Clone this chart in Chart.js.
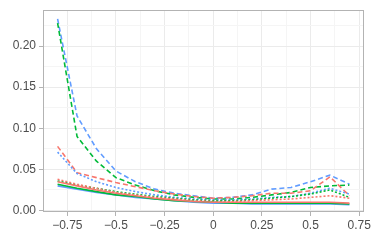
<!DOCTYPE html>
<html>
<head>
<meta charset="utf-8">
<script src="https://cdn.jsdelivr.net/npm/chart.js@4/dist/chart.umd.min.js"></script>
<style>
html,body{margin:0;padding:0;background:#fff;}
#wrap{width:374px;height:240px;}
</style>
</head>
<body>
<div id="wrap"><canvas id="c" width="374" height="240"></canvas></div>
<script>
const xValues = [-0.8,-0.7,-0.6,-0.5,-0.4,-0.3,-0.2,-0.1,0,0.1,0.2,0.3,0.4,0.5,0.6,0.7];

const blueDashed  = [0.233,0.115,0.075,0.048,0.035,0.026,0.021,0.018,0.015,0.016,0.019,0.026,0.028,0.035,0.043,0.032];
const greenDashed = [0.228,0.090,0.060,0.040,0.031,0.024,0.019,0.016,0.014,0.014,0.016,0.019,0.022,0.028,0.030,0.031];
const redDashed   = [0.078,0.046,0.040,0.034,0.029,0.024,0.020,0.017,0.015,0.016,0.018,0.021,0.021,0.024,0.041,0.018];
const blueDotted  = [0.071,0.045,0.035,0.028,0.023,0.019,0.016,0.014,0.013,0.013,0.014,0.016,0.017,0.021,0.027,0.020];
const greenDotted = [0.036,0.031,0.027,0.023,0.020,0.017,0.015,0.013,0.012,0.012,0.013,0.015,0.017,0.020,0.025,0.016];
const redDotted   = [0.038,0.032,0.027,0.022,0.019,0.016,0.014,0.012,0.011,0.011,0.012,0.013,0.014,0.016,0.018,0.015];
const redSolid    = [0.035,0.030,0.025,0.021,0.018,0.015,0.013,0.011,0.010,0.010,0.010,0.010,0.010,0.010,0.010,0.009];
const greenSolid  = [0.032,0.027,0.023,0.019,0.017,0.014,0.012,0.011,0.010,0.009,0.009,0.009,0.009,0.009,0.009,0.008];
const blueSolid   = [0.030,0.026,0.022,0.019,0.016,0.014,0.012,0.010,0.009,0.009,0.008,0.008,0.008,0.008,0.008,0.007];

const xTicks = [-0.75,-0.5,-0.25,0,0.25,0.5,0.75];
const xTickLabels = ['\u22120.75','\u22120.5','\u22120.25','0','0.25','0.5','0.75'];
const yTicks = [0,0.05,0.10,0.15,0.20];
const yTickLabels = ['0.00','0.05','0.10','0.15','0.20'];

const RED = '#F8766D', GREEN = '#00BA38', BLUE = '#619CFF';
const DASH = [5,3], DOT = [2,2];

function mk(vals, color, dash, w){
  return {
    data: xValues.map((x,i)=>({x:x,y:vals[i]})),
    borderColor: color, borderWidth: w || 1.6, borderDash: dash || [],
    pointRadius: 0, fill: false, tension: 0
  };
}

const datasets = [
  mk(redSolid, RED), mk(greenSolid, GREEN), mk(blueSolid, BLUE),
  mk(redDotted, RED, DOT), mk(greenDotted, GREEN, DOT), mk(blueDotted, BLUE, DOT),
  mk(redDashed, RED, DASH), mk(greenDashed, GREEN, DASH), mk(blueDashed, BLUE, DASH)
];

function withMinor(majors){
  const out = [];
  for (let i=0;i<majors.length;i++){
    out.push({value:majors[i], major:true});
    if (i<majors.length-1) out.push({value:(majors[i]+majors[i+1])/2, major:false});
  }
  return out;
}

const border = {
  id:'panelBorder',
  beforeDatasetsDraw(chart){
    const a = chart.chartArea, c = chart.ctx;
    c.save(); c.strokeStyle = '#B3B3B3'; c.lineWidth = 1;
    c.strokeRect(Math.round(a.left)+0.5, Math.round(a.top)+0.5, Math.round(a.right-a.left)-1, Math.round(a.bottom-a.top)-1);
    c.restore();
  }
};

new Chart(document.getElementById('c'), {
  type: 'line',
  data: { datasets },
  plugins: [border],
  options: {
    responsive: false, animation: false,
    layout: { padding: { top: 9, right: 10, left: 0, bottom: 0 } },
    plugins: { legend: { display: false }, tooltip: { enabled: false } },
    scales: {
      x: {
        type: 'linear', min: -0.875, max: 0.775,
        afterBuildTicks: s => { s.ticks = withMinor(xTicks); },
        afterFit: s => { s.height = 28; },
        border: { display: false },
        grid: {
          color: c => c.tick && c.tick.major ? '#EBEBEB' : '#F5F5F5',
          tickColor: c => c.tick && c.tick.major ? '#B3B3B3' : 'rgba(0,0,0,0)',
          tickLength: 4, lineWidth: 1
        },
        ticks: {
          autoSkip: false, maxRotation: 0, padding: 2, color: '#4D4D4D',
          font: { family: 'Liberation Sans, Arial, sans-serif', size: 12 },
          callback: (v) => { const i = xTicks.findIndex(t=>Math.abs(t-v)<1e-9); return i>=0 ? xTickLabels[i] : ''; }
        }
      },
      y: {
        type: 'linear', min: -0.0018, max: 0.2436,
        afterBuildTicks: s => { s.ticks = withMinor(yTicks).concat([{value:0.225, major:false}]); },
        afterFit: s => { s.width = 43; },
        border: { display: false },
        grid: {
          color: c => c.tick && c.tick.major ? '#EBEBEB' : '#F5F5F5',
          tickColor: c => c.tick && c.tick.major ? '#B3B3B3' : 'rgba(0,0,0,0)',
          tickLength: 4, lineWidth: 1
        },
        ticks: {
          autoSkip: false, padding: 3, color: '#4D4D4D',
          font: { family: 'Liberation Sans, Arial, sans-serif', size: 12 },
          callback: (v) => { const i = yTicks.findIndex(t=>Math.abs(t-v)<1e-9); return i>=0 ? yTickLabels[i] : ''; }
        }
      }
    }
  }
});
</script>
</body>
</html>
